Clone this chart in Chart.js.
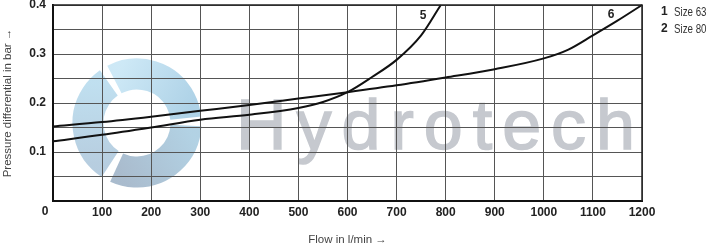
<!DOCTYPE html>
<html>
<head>
<meta charset="utf-8">
<script src="https://cdn.jsdelivr.net/npm/chart.js@4"></script>
<style>
  html, body { margin: 0; padding: 0; background: #fff; }
  #wrap { width: 711px; height: 248px; position: relative; }
</style>
</head>
<body>
<div id="wrap"><canvas id="flowChart" width="711" height="248"></canvas></div>
<script>
// curve 5 (Size 63)
var flow5 = [0, 100, 200, 300, 400, 500, 550, 600, 650, 700, 750, 790];
var dp5 = [0.122, 0.135, 0.150, 0.166, 0.176, 0.190, 0.202, 0.222, 0.253, 0.288, 0.338, 0.4];
// curve 6 (Size 80)
var flow6 = [0, 100, 200, 300, 400, 500, 600, 700, 800, 900, 1000, 1050, 1100, 1150, 1200];
var dp6 = [0.152, 0.161, 0.172, 0.184, 0.196, 0.209, 0.222, 0.236, 0.252, 0.269, 0.291, 0.309, 0.338, 0.368, 0.4];

var curveNames = ['5', '6'];
var legendNums = ['1', '2'];
var legendTexts = ['Size 63', 'Size 80'];
var yTickLabels = ['0.1', '0.2', '0.3', '0.4'];

var FONT = '"Liberation Sans", Arial, sans-serif';

function toPoints(xs, ys) {
  var pts = [];
  for (var i = 0; i < xs.length; i++) pts.push({x: xs[i], y: ys[i]});
  return pts;
}

// watermark behind the grid
var watermark = {
  id: 'watermark',
  beforeDraw: function(chart) {
    var ctx = chart.ctx;
    ctx.save();
    // swirl logo
    var cx = 137, cy = 123, r = 49;
    var arcs = [[-2.05, -0.1], [0.05, 2.0], [2.15, 4.1]];
    var cols = [['rgba(200,230,245,0.9)', 'rgba(165,205,228,0.9)'],
                ['rgba(170,205,225,0.9)', 'rgba(160,180,200,0.9)'],
                ['rgba(175,200,220,0.9)', 'rgba(185,220,238,0.9)']];
    ctx.lineWidth = 31;
    for (var i = 0; i < arcs.length; i++) {
      var a0 = arcs[i][0], a1 = arcs[i][1];
      var g = ctx.createLinearGradient(cx + r * Math.cos(a0), cy + r * Math.sin(a0),
                                       cx + r * Math.cos(a1), cy + r * Math.sin(a1));
      g.addColorStop(0, cols[i][0]);
      g.addColorStop(1, cols[i][1]);
      ctx.strokeStyle = g;
      ctx.beginPath();
      ctx.arc(cx, cy, r, a0, a1);
      ctx.stroke();
    }
    // brand text
    ctx.fillStyle = 'rgba(198,201,207,1)';
    ctx.strokeStyle = 'rgba(198,201,207,1)';
    ctx.lineWidth = 1.5;
    ctx.font = '70px "Liberation Sans", Arial, sans-serif';
    ctx.textBaseline = 'alphabetic';
    ctx.textAlign = 'left';
    ctx.letterSpacing = '10px';
    ctx.fillText('Hydrotech', 236, 149);
    ctx.strokeText('Hydrotech', 236, 149);
    ctx.restore();
  }
};

// curve numbers, legend, origin label
var annotations = {
  id: 'annotations',
  afterDraw: function(chart) {
    var ctx = chart.ctx;
    var xs = chart.scales.x, ys = chart.scales.y;
    ctx.save();
    ctx.fillStyle = '#222';
    ctx.font = 'bold 12px ' + FONT;
    ctx.textAlign = 'center';
    ctx.textBaseline = 'middle';
    ctx.fillText(curveNames[0], 423, 16);
    ctx.fillText(curveNames[1], 611, 15);
    ctx.fillText('0', xs.getPixelForValue(0) - 8, 212);
    ctx.textAlign = 'left';
    for (var i = 0; i < legendNums.length; i++) {
      var y = 12 + i * 17;
      ctx.fillStyle = '#222';
      ctx.font = 'bold 12px ' + FONT;
      ctx.fillText(legendNums[i], 661, y);
      ctx.save();
      ctx.translate(674, y);
      ctx.scale(0.75, 1);
      ctx.font = '13px ' + FONT;
      ctx.fillStyle = '#333';
      ctx.fillText(legendTexts[i], 0, 0);
      ctx.restore();
    }
    // frame on top and right
    ctx.strokeStyle = '#222';
    ctx.lineWidth = 1.5;
    ctx.beginPath();
    ctx.moveTo(xs.left, ys.top);
    ctx.lineTo(xs.right, ys.top);
    ctx.lineTo(xs.right, ys.bottom);
    ctx.stroke();
    ctx.restore();
  }
};

var ctx = document.getElementById('flowChart').getContext('2d');
var flowChart = new Chart(ctx, {
  type: 'scatter',
  data: {
    datasets: [{
      label: curveNames[0],
      data: toPoints(flow5, dp5),
      showLine: true,
      borderColor: '#111',
      borderWidth: 2,
      pointRadius: 0,
      cubicInterpolationMode: 'monotone'
    }, {
      label: curveNames[1],
      data: toPoints(flow6, dp6),
      showLine: true,
      borderColor: '#111',
      borderWidth: 2,
      pointRadius: 0,
      cubicInterpolationMode: 'monotone'
    }]
  },
  options: {
    responsive: false,
    animation: false,
    clip: false,
    layout: { padding: { left: 0, right: 69, top: 5, bottom: 0 } },
    plugins: { legend: { display: false }, tooltip: { enabled: false } },
    scales: {
      x: {
        type: 'linear',
        min: 0,
        max: 1200,
        afterFit: function(s) { s.height = 47; s.paddingLeft = 0; s.paddingRight = 0; },
        ticks: {
          stepSize: 100,
          padding: 4,
          color: '#222',
          font: { family: FONT, size: 12, weight: 'bold' },
          callback: function(v) { return v === 0 ? '' : String(v); }
        },
        grid: { color: '#555', lineWidth: 1, drawTicks: false },
        border: { color: '#111', width: 2 },
        title: {
          display: true,
          text: 'Flow in l/min \u2192',
          color: '#444',
          font: { family: FONT, size: 11.5 },
          padding: { top: 0, bottom: 1 }
        }
      },
      y: {
        type: 'linear',
        min: 0,
        max: 0.4,
        afterFit: function(s) { s.width = 53; s.paddingTop = 0; s.paddingBottom = 0; },
        ticks: {
          stepSize: 0.05,
          padding: 7,
          color: '#222',
          font: { family: FONT, size: 12, weight: 'bold' },
          callback: function(v) {
            var t = (Math.round(v * 100) / 100).toFixed(1);
            return (Math.round(v * 100) % 10 === 0 && yTickLabels.indexOf(t) >= 0) ? t : '';
          }
        },
        grid: { color: '#555', lineWidth: 1, drawTicks: false },
        border: { color: '#111', width: 2 },
        title: {
          display: true,
          text: 'Pressure differential in bar \u2192',
          color: '#444',
          font: { family: FONT, size: 11.5 },
          padding: { top: 1, bottom: 0 }
        }
      }
    }
  },
  plugins: [watermark, annotations]
});
</script>
</body>
</html>
